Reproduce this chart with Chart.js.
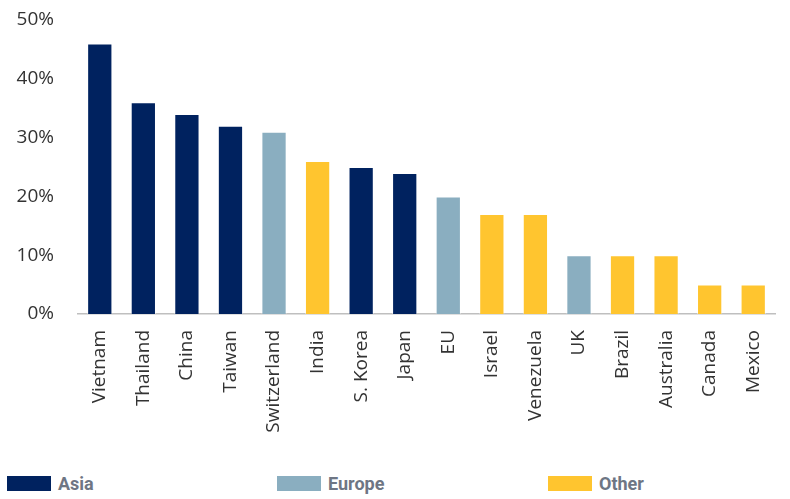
<!DOCTYPE html>
<html>
<head>
<meta charset="utf-8">
<script src="https://cdn.jsdelivr.net/npm/chart.js@4"></script>
<style>
  body { margin: 0; background: #fff; width: 790px; height: 499px; overflow: hidden; position: relative; }
  #wrap { position: absolute; left: 0; top: 0; width: 790px; height: 450px; }
  .leg { position: absolute; top: 473px; font-family: Roboto, sans-serif; font-weight: bold; font-size: 18px; line-height: 22px; color: #6e7684; }
  .leg span { position: absolute; left: 0; top: 3px; width: 44px; height: 15px; }
</style>
</head>
<body>
<div id="wrap"><canvas id="myChart"></canvas></div>
<div id="legend"></div>
<script>
const countries = ["Vietnam", "Thailand", "China", "Taiwan", "Switzerland", "India", "S. Korea", "Japan",
  "EU", "Israel", "Venezuela", "UK", "Brazil", "Australia", "Canada", "Mexico"];
const tariffs = [46, 36, 34, 32, 31, 26, 25, 24, 20, 17, 17, 10, 10, 10, 5, 5];
const regions = ["Asia", "Asia", "Asia", "Asia", "Europe", "Other", "Asia", "Asia",
  "Europe", "Other", "Other", "Europe", "Other", "Other", "Other", "Other"];
const regionNames = ["Asia", "Europe", "Other"];
const regionColors = {Asia: "#00225f", Europe: "#8aaec0", Other: "#ffc52f"};
const yTicks = [0, 10, 20, 30, 40, 50];

// legend is plain html, spaced like the original
const legendLeft = [7, 277, 548];
let legendHtml = "";
for (let i = 0; i < regionNames.length; i++) {
  legendHtml += '<div class="leg" style="left:' + legendLeft[i] + 'px;padding-left:51px"><span style="background:' +
    regionColors[regionNames[i]] + '"></span>' + regionNames[i] + '</div>';
}
document.getElementById("legend").innerHTML = legendHtml;

new Chart("myChart", {
  type: "bar",
  data: {
    labels: countries,
    datasets: [{
      data: tariffs,
      backgroundColor: regions.map(r => regionColors[r]),
      borderColor: "rgba(255,255,255,0.45)",
      borderWidth: 1,
      categoryPercentage: 0.58,
      barPercentage: 1
    }]
  },
  options: {
    responsive: true,
    maintainAspectRatio: false,
    animation: false,
    layout: {padding: {top: 20, right: 15, left: 0, bottom: 0}},
    plugins: {legend: {display: false}, tooltip: {enabled: false}},
    scales: {
      x: {
        grid: {display: false},
        border: {display: true, color: "#bfbfbf", width: 1.5},
        ticks: {
          maxRotation: 90, minRotation: 90, padding: 8,
          color: "#333", font: {family: "'Open Sans'", size: 19}
        },
        afterFit: scale => { scale.height = 136; }
      },
      y: {
        min: 0, max: 50,
        grid: {display: false},
        border: {display: false},
        afterBuildTicks: scale => { scale.ticks = yTicks.map(v => ({value: v})); },
        ticks: {
          padding: 16, color: "#333", font: {family: "'Open Sans'", size: 19},
          callback: v => v + "%"
        },
        afterFit: scale => { scale.width = 78; scale.paddingTop = 0; scale.paddingBottom = 0; }
      }
    }
  }
});
</script>
</body>
</html>
